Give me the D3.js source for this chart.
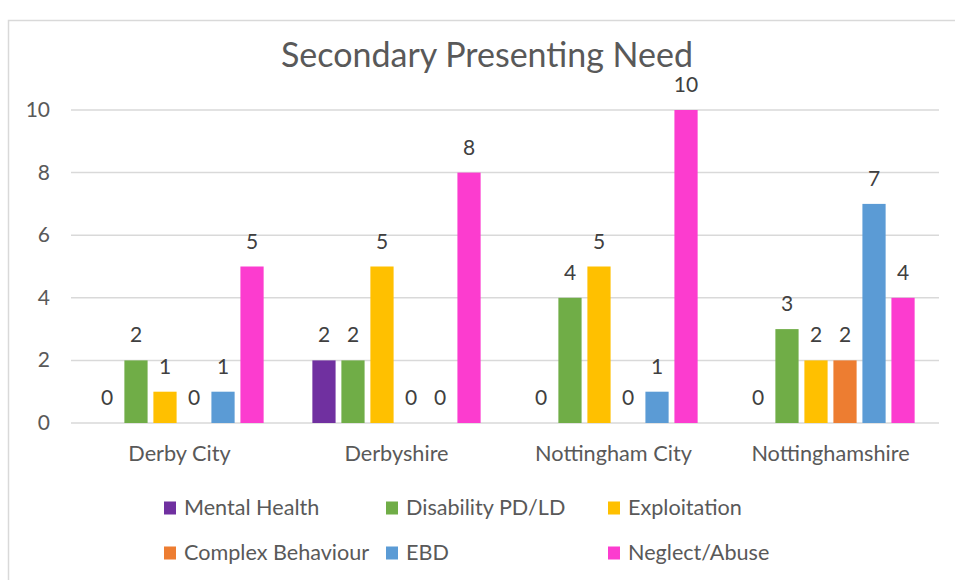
<!DOCTYPE html>
<html>
<head>
<meta charset="utf-8">
<script src="https://cdn.jsdelivr.net/npm/d3@7"></script>
<style>
    body { margin: 0; background: #ffffff; }
    svg { display: block; font-family: Lato, Carlito, Calibri, sans-serif; }
    .gridline { stroke: #d9d9d9; stroke-width: 1.5; }
    .ticklabel { fill: #595959; font-size: 21px; }
    .catlabel { fill: #595959; font-size: 21.7px; }
    .datalabel { fill: #404040; font-size: 21px; }
    .legendtext { fill: #595959; font-size: 21.6px; }
    .title { fill: #595959; font-size: 34px; }
</style>
</head>
<body>
<div id="chart"></div>
<script>

const categories = ['Derby City', 'Derbyshire', 'Nottingham City', 'Nottinghamshire'];
const seriesNames = ['Mental Health', 'Disability PD/LD', 'Exploitation', 'Complex Behaviour', 'EBD', 'Neglect/Abuse'];
const seriesColors = ['#7030a0', '#70ad47', '#ffc000', '#ed7d31', '#5b9bd5', '#fc3ccf'];

// one array per series, in category order
const mentalHealth = [0, 2, 0, 0];
const disability = [2, 2, 4, 3];
const exploitation = [1, 5, 5, 2];
const complexBehaviour = [0, 0, 0, 2];
const ebd = [1, 0, 1, 7];
const neglectAbuse = [5, 8, 10, 4];

const yTicks = [0, 2, 4, 6, 8, 10];

const seriesValues = [mentalHealth, disability, exploitation, complexBehaviour, ebd, neglectAbuse];

function make_chart() {
    var width = 955;
    var height = 580;
    var plotLeft = 71, plotRight = 939;
    var plotTop = 110, plotBottom = 423;

    var svg = d3.select("#chart").append("svg")
        .attr("width", width)
        .attr("height", height);

    // chart area border (Excel style)
    svg.append("rect")
        .attr("x", 8.5)
        .attr("y", 20.5)
        .attr("width", 960)
        .attr("height", 600)
        .attr("fill", "none")
        .attr("stroke", "#d9d9d9")
        .attr("stroke-width", 1.5);

    svg.append("text")
        .text("Secondary Presenting Need")
        .attr("x", 487)
        .attr("y", 67)
        .attr("text-anchor", "middle")
        .attr("class", "title");

    var x0 = d3.scaleBand()
        .domain(categories)
        .range([plotLeft, plotRight])
        .padding(0);
    var x1 = d3.scaleBand()
        .domain(seriesNames)
        .range([0, x0.bandwidth()])
        .paddingInner(0.2)
        .paddingOuter(0.84);
    var y = d3.scaleLinear()
        .domain([0, 10])
        .range([plotBottom, plotTop]);

    // gridlines
    svg.append("g").selectAll("line")
        .data(yTicks)
        .join("line")
        .attr("x1", plotLeft)
        .attr("x2", plotRight)
        .attr("y1", d => y(d))
        .attr("y2", d => y(d))
        .attr("class", "gridline");

    // y tick labels
    svg.append("g").selectAll("text")
        .data(yTicks)
        .join("text")
        .text(d => d)
        .attr("x", 50)
        .attr("y", d => y(d))
        .attr("dy", 7)
        .attr("text-anchor", "end")
        .attr("class", "ticklabel");

    // category labels
    svg.append("g").selectAll("text")
        .data(categories)
        .join("text")
        .text(d => d)
        .attr("x", d => x0(d) + x0.bandwidth()/2)
        .attr("y", 461)
        .attr("text-anchor", "middle")
        .attr("class", "catlabel");

    // bars
    var groups = svg.append("g").selectAll("g")
        .data(categories)
        .join("g")
        .attr("transform", d => "translate(" + x0(d) + ",0)");

    var cells = groups.selectAll("g")
        .data((c, ci) => seriesNames.map((s, si) => ({series: s, value: seriesValues[si][ci], color: seriesColors[si]})))
        .join("g");

    cells.append("rect")
        .attr("x", d => x1(d.series))
        .attr("y", d => y(d.value))
        .attr("width", x1.bandwidth())
        .attr("height", d => y(0) - y(d.value))
        .attr("fill", d => d.color);

    cells.append("text")
        .text(d => d.value)
        .attr("x", d => x1(d.series) + x1.bandwidth()/2)
        .attr("y", d => y(d.value) - 18)
        .attr("dy", 0)
        .attr("text-anchor", "middle")
        .attr("class", "datalabel");

    // legend: 3 columns x 2 rows
    var legendX = [164, 386, 608];
    var legendY = [508, 553];
    var legend = svg.append("g").selectAll("g")
        .data(seriesNames)
        .join("g")
        .attr("transform", (d, i) => "translate(" + legendX[i % 3] + "," + legendY[Math.floor(i / 3)] + ")");

    legend.append("rect")
        .attr("x", 0)
        .attr("y", -6.5)
        .attr("width", 12)
        .attr("height", 13)
        .attr("fill", (d, i) => seriesColors[i]);

    legend.append("text")
        .text(d => d)
        .attr("x", 20)
        .attr("y", 0)
        .attr("dy", 7)
        .attr("class", "legendtext");
};

make_chart();

</script>
</body>
</html>
